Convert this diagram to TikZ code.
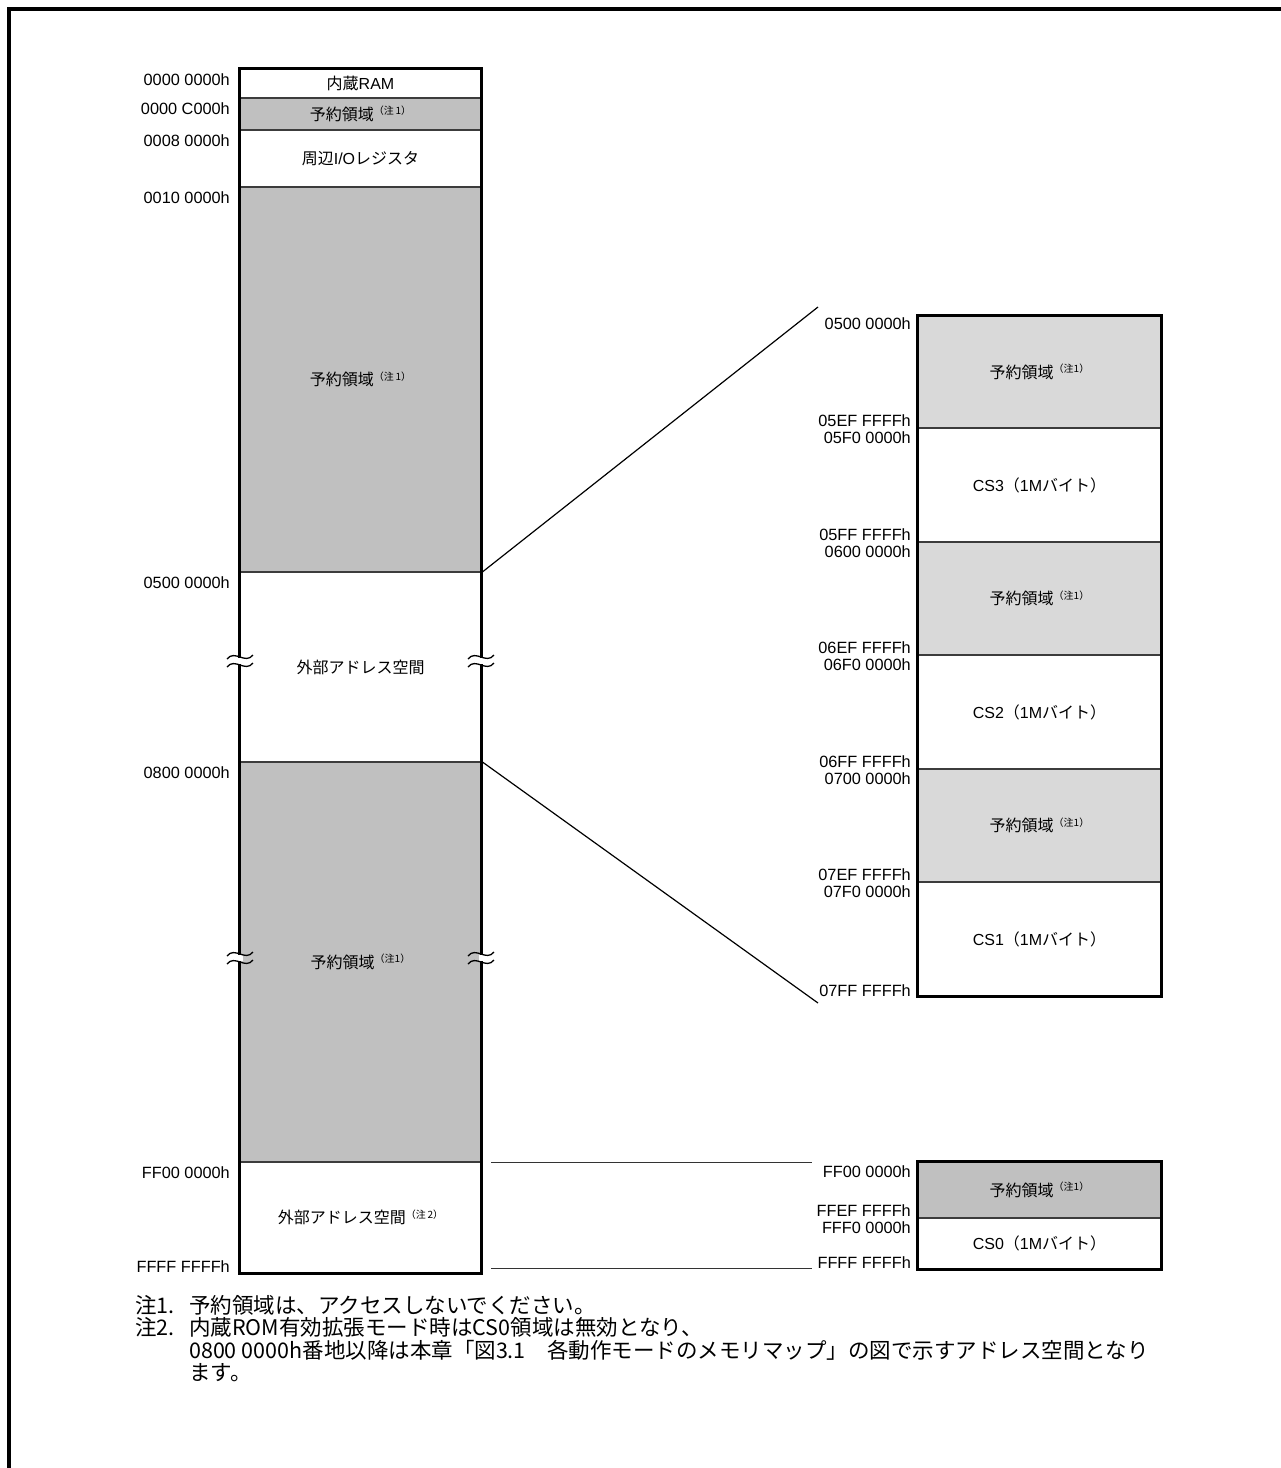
\documentclass[tikz,border=0pt]{standalone}
\usepackage{fontspec}
\setmainfont{Liberation Sans}
\newfontfamily\jp{Noto Sans CJK JP}
\definecolor{gL}{RGB}{192,192,192}
\definecolor{gR}{RGB}{217,217,217}
\definecolor{divl}{RGB}{60,60,60}
\newcommand\chu[1]{\raisebox{5.5pt}{\fontsize{10}{10}\selectfont\jp （注#1）}}
\newcommand\brk[2]{%
  \fill[white] (#1-2.5,#2-3) rectangle (#1+2.5,#2+3);
  \draw[line width=1.3pt] (#1-13,#2-2) .. controls (#1-5,#2-12) and (#1+5,#2+4) .. (#1+13,#2-6);
  \draw[line width=1.3pt] (#1-13,#2+6) .. controls (#1-5,#2-4) and (#1+5,#2+12) .. (#1+13,#2+2);
}
\begin{document}
\begin{tikzpicture}[x=1pt,y=-1pt,
  reg/.style={draw=divl, line width=1.2pt, inner sep=0pt, text=black,
    font=\fontsize{16}{18}\selectfont},
  regL/.style={reg, minimum width=241pt},
  regR/.style={reg, minimum width=243pt},
  addr/.style={inner sep=0pt, font=\fontsize{16.3}{18}\selectfont},
  note/.style={inner sep=0pt, anchor=base west, font=\fontsize{21.5}{24}\selectfont\jp},
  thick box/.style={line width=3pt},
  conn/.style={line width=1.2pt},
  hconn/.style={line width=0.9pt, draw=black!80}
]
\useasboundingbox (0,0) rectangle (1281,1468);
\fill[white] (0,0) rectangle (1281,1468);
% page frame
\coordinate (fa) at (9,1468);
\coordinate (fb) at (9,9);
\coordinate (fc) at (1281,9);
\draw[line width=3.7pt] (fa) -- (fb) -- (fc);

% ---------- left column ----------
\node[regL, fill=white, minimum height=29pt] (ram) at (360.5,83.5) {{\jp 内蔵}RAM};
\node[regL, fill=gL, minimum height=32pt] (res1) at (360.5,114) {{\jp 予約領域}\chu{\,1}};
\node[regL, fill=white, minimum height=57pt] (io) at (360.5,158.5) {{\jp 周辺}I/O{\jp レジスタ}};
\node[regL, fill=gL, minimum height=385pt] (res2) at (360.5,379.5) {{\jp 予約領域}\chu{\,1}};
\node[regL, fill=white, minimum height=190pt] (ext1) at (360.5,667) {\jp 外部アドレス空間};
\node[regL, fill=gL, minimum height=400pt] (res3) at (360.5,962) {{\jp 予約領域}\chu{1}};
\node[regL, fill=white, minimum height=111pt] (ext2) at (360.5,1217.5) {{\jp 外部アドレス空間}\chu{\,2}};
\draw[thick box] (ram.north west) rectangle (ext2.south east);
\brk{240}{661}
\brk{481}{661}
\brk{240}{958}
\brk{481}{958}

% left addresses
\node[addr, anchor=north east] (la1) at (230,73) {0000 0000h};
\node[addr, anchor=north east] (la2) at (230,102) {0000 C000h};
\node[addr, anchor=north east] (la3) at (230,134) {0008 0000h};
\node[addr, anchor=north east] (la4) at (230,191) {0010 0000h};
\node[addr, anchor=north east] (la5) at (230,576) {0500 0000h};
\node[addr, anchor=north east] (la6) at (230,766) {0800 0000h};
\node[addr, anchor=north east] (la7) at (230,1166) {FF00 0000h};
\node[addr, anchor=base east] (la8) at (230,1272.5) {FFFF FFFFh};

% ---------- right column ----------
\node[regR, fill=gR, minimum height=112pt] (r1) at (1039.5,372) {{\jp 予約領域}\chu{1}};
\node[regR, fill=white, minimum height=114pt] (r2) at (1039.5,485) {CS3{\jp （}1M{\jp バイト）}};
\node[regR, fill=gR, minimum height=113pt] (r3) at (1039.5,598.5) {{\jp 予約領域}\chu{1}};
\node[regR, fill=white, minimum height=114pt] (r4) at (1039.5,712) {CS2{\jp （}1M{\jp バイト）}};
\node[regR, fill=gR, minimum height=113pt] (r5) at (1039.5,825.5) {{\jp 予約領域}\chu{1}};
\node[regR, fill=white, minimum height=114pt] (r6) at (1039.5,939) {CS1{\jp （}1M{\jp バイト）}};
\draw[thick box] (r1.north west) rectangle (r6.south east);

\node[regR, fill=gL, minimum height=56pt] (b1) at (1039.5,1190) {{\jp 予約領域}\chu{1}};
\node[regR, fill=white, minimum height=51pt] (b2) at (1039.5,1243.5) {CS0{\jp （}1M{\jp バイト）}};
\draw[thick box] (b1.north west) rectangle (b2.south east);

% right addresses
\node[addr, anchor=north east] (ra1) at (911,317.5) {0500 0000h};
\node[addr, anchor=base east] (ra2) at (911,426.5) {05EF FFFFh};
\node[addr, anchor=north east] (ra3) at (911,431) {05F0 0000h};
\node[addr, anchor=base east] (ra4) at (911,540.5) {05FF FFFFh};
\node[addr, anchor=north east] (ra5) at (911,545) {0600 0000h};
\node[addr, anchor=base east] (ra6) at (911,653.5) {06EF FFFFh};
\node[addr, anchor=north east] (ra7) at (911,658) {06F0 0000h};
\node[addr, anchor=base east] (ra8) at (911,767.5) {06FF FFFFh};
\node[addr, anchor=north east] (ra9) at (911,772) {0700 0000h};
\node[addr, anchor=base east] (ra10) at (911,880.5) {07EF FFFFh};
\node[addr, anchor=north east] (ra11) at (911,885) {07F0 0000h};
\node[addr, anchor=base east] (ra12) at (911,996) {07FF FFFFh};
\node[addr, anchor=north east] (ra13) at (911,1165) {FF00 0000h};
\node[addr, anchor=base east] (ra14) at (911,1216.5) {FFEF FFFFh};
\node[addr, anchor=north east] (ra15) at (911,1221) {FFF0 0000h};
\node[addr, anchor=base east] (ra16) at (911,1268) {FFFF FFFFh};

% connectors
\coordinate (d1) at (818,307);
\coordinate (d2) at (818,1003);
\draw[conn] (res2.south east) -- (d1);
\draw[conn] (res3.north east) -- (d2);
\coordinate (h1a) at (491,1162);
\coordinate (h1b) at (812,1162);
\coordinate (h2a) at (491,1268);
\coordinate (h2b) at (812,1268);
\draw[hconn] (h1a) -- (h1b);
\draw[hconn] (h2a) -- (h2b);

% notes
\node[note] (n1a) at (135,1313) {注1.};
\node[note] (n1b) at (189,1313) {予約領域は、アクセスしないでください。};
\node[note] (n2a) at (135,1335.5) {注2.};
\node[note] (n2b) at (189,1335.5) {内蔵ROM有効拡張モード時はCS0領域は無効となり、};
\node[note] (n3) at (189,1358) {0800 0000h番地以降は本章「図3.1　各動作モードのメモリマップ」の図で示すアドレス空間となり};
\node[note] (n4) at (189,1380.5) {ます。};
\end{tikzpicture}
\end{document}
